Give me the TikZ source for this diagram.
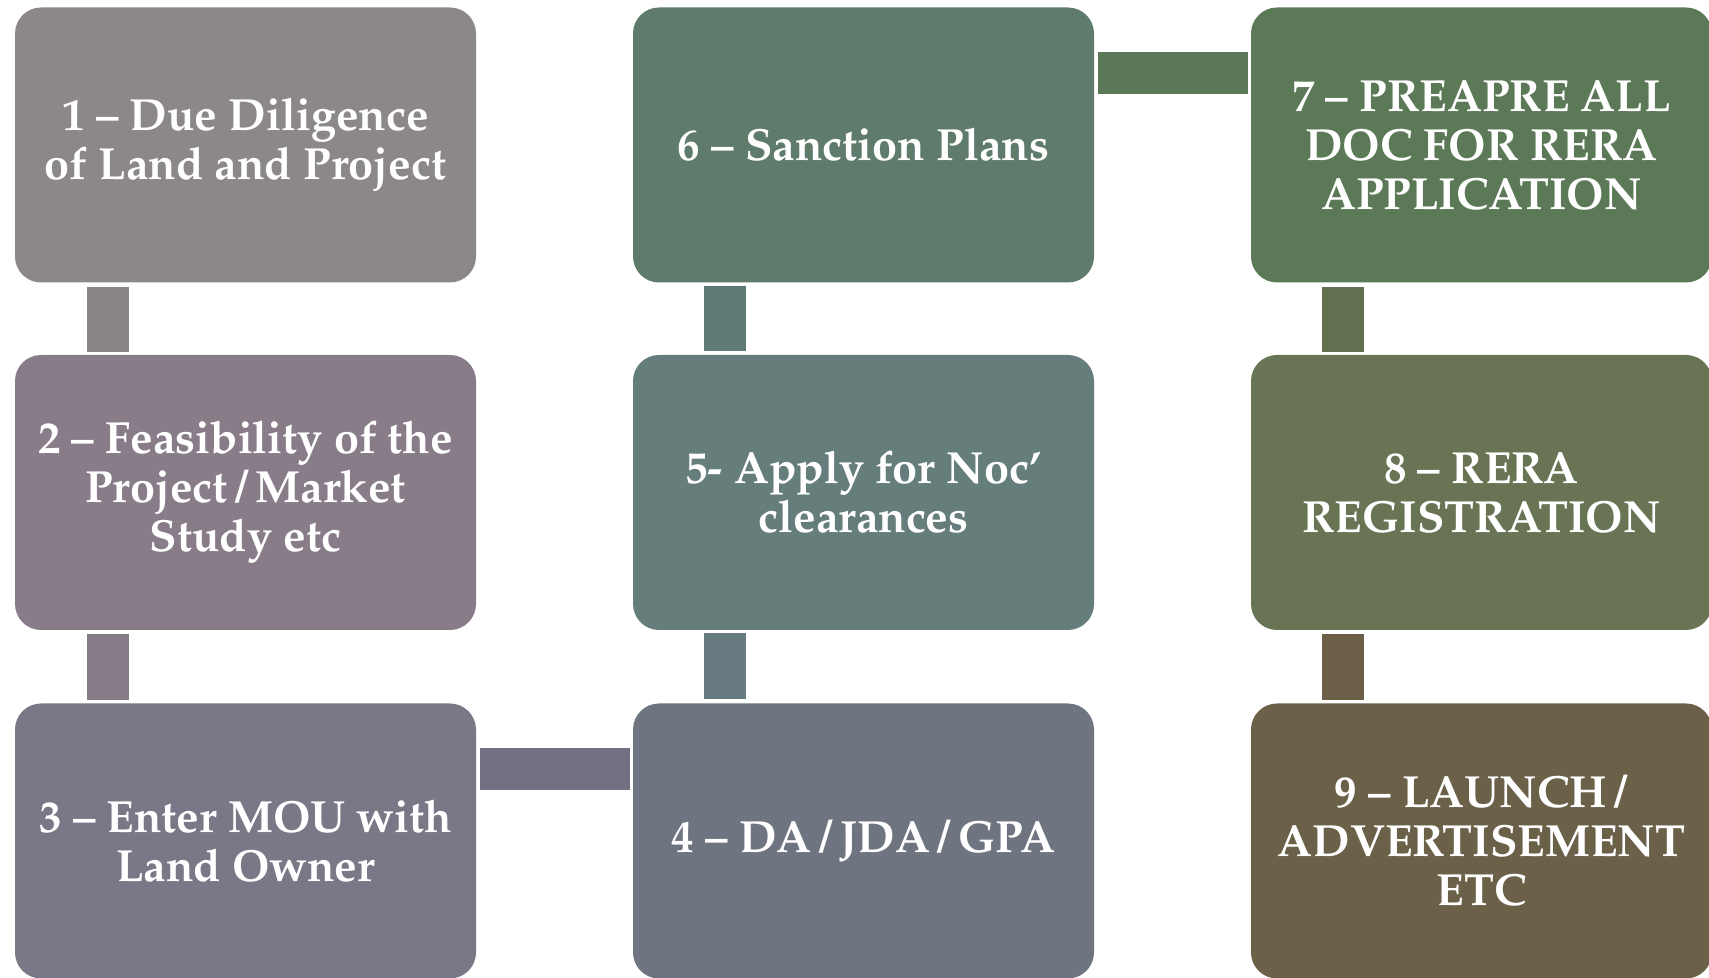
\documentclass[tikz,border=0pt]{standalone}
\usepackage[T1]{fontenc}
\usepackage{mathpazo}
\usepackage{tikz}
\usetikzlibrary{positioning}

\definecolor{cOne}{HTML}{8C878A}
\definecolor{cTwo}{HTML}{877C88}
\definecolor{cThree}{HTML}{7A7786}
\definecolor{cFour}{HTML}{6F7580}
\definecolor{cFive}{HTML}{657D7B}
\definecolor{cSix}{HTML}{5E7B6B}
\definecolor{cSeven}{HTML}{5C7957}
\definecolor{cEight}{HTML}{687454}
\definecolor{cNine}{HTML}{6B6149}
\definecolor{lOne}{HTML}{8B8589}
\definecolor{lTwo}{HTML}{857B87}
\definecolor{lThree}{HTML}{737084}
\definecolor{lFour}{HTML}{667A80}
\definecolor{lFive}{HTML}{5F7B75}
\definecolor{lSix}{HTML}{5A7757}
\definecolor{lSeven}{HTML}{637050}
\definecolor{lEight}{HTML}{6B5F48}

\begin{document}
\begin{tikzpicture}[x=1pt, y=1pt,
  stepbox/.style={rounded corners=13pt, minimum width=230.5pt, minimum height=137.5pt,
    inner sep=0pt, align=center, text=white, font=\fontsize{22.5}{24.5}\selectfont\bfseries},
  link/.style={line width=21pt, shorten <=2pt, shorten >=1.5pt}]
\useasboundingbox (0,0) rectangle (854.5,489);
\node[stepbox,fill=cOne] (s1) at (122.75,416.5) {1 -- Due Diligence\\of Land and Project};
\node[stepbox,fill=cTwo] (s2) at (122.75,242.75) {2 -- Feasibility of the\\Project\,/\,Market\\Study etc};
\node[stepbox,fill=cThree] (s3) at (122.75,68.5) {3 -- Enter MOU with\\Land Owner};
\node[stepbox,fill=cFour] (s4) at (431.75,68.5) {4 -- DA\,/\,JDA\,/\,GPA};
\node[stepbox,fill=cFive] (s5) at (431.75,242.75) {5- Apply for Noc'\\clearances};
\node[stepbox,fill=cSix] (s6) at (431.75,416.5) {6 -- Sanction Plans};
\node[stepbox,fill=cSeven] (s7) at (740.75,416.5) {7 -- PREAPRE ALL\\DOC FOR RERA\\APPLICATION};
\node[stepbox,fill=cEight] (s8) at (740.75,242.75) {8 -- RERA\\REGISTRATION};
\node[stepbox,fill=cNine] (s9) at (740.75,68.5) {9 -- LAUNCH\,/\\ADVERTISEMENT\\ETC};
\draw[link,lOne] ([xshift=46.5pt]s1.south west) -- ([xshift=46.5pt]s2.north west);
\draw[link,lTwo] ([xshift=46.5pt]s2.south west) -- ([xshift=46.5pt]s3.north west);
\draw[link,lThree] ([yshift=-33pt]s3.north east) -- ([yshift=-33pt]s4.north west);
\draw[link,lFour] ([xshift=46pt]s4.north west) -- ([xshift=46pt]s5.south west);
\draw[link,lFive] ([xshift=46pt]s5.north west) -- ([xshift=46pt]s6.south west);
\draw[link,lSix] ([yshift=-33pt]s6.north east) -- ([yshift=-33pt]s7.north west);
\draw[link,lSeven] ([xshift=46pt]s7.south west) -- ([xshift=46pt]s8.north west);
\draw[link,lEight] ([xshift=46pt]s8.south west) -- ([xshift=46pt]s9.north west);
\end{tikzpicture}
\end{document}
